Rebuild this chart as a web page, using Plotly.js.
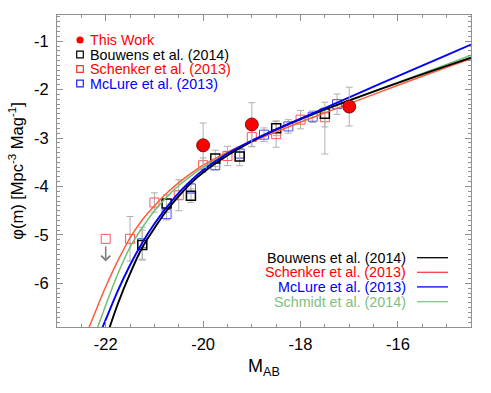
<!DOCTYPE html>
<html>
<head>
<meta charset="utf-8">
<script src="https://cdn.plot.ly/plotly-3.0.1.min.js"></script>
<style>html,body{margin:0;padding:0;background:#fff;}#chart{width:491px;height:393px;}</style>
</head>
<body>
<div id="chart"></div>
<script>
// ---------- data ----------
// This Work
var thisM   = [-20.0, -19.0, -17.0];
var thisPhi = [-3.15, -2.72, -2.35];
var thisErr = [0.46, 0.45, 0.40];

// Bouwens et al. (2014)
var bouM     = [-21.25, -20.75, -20.25, -19.75, -19.25, -18.5, -17.5];
var bouPhi   = [-5.21, -4.35, -4.19, -3.42, -3.38, -2.80, -2.50];
var bouErrUp = [0.31, 0.18, 0.14, 0.17, 0.19, 0.15, 0.24];
var bouErrDn = [0.31, 0.18, 0.14, 0.17, 0.19, 0.15, 0.83];

// Schenker et al. (2013)
var schM   = [-21.5, -21.0, -20.5, -20.0, -19.5, -19.0, -18.5, -18.0, -17.5];
var schPhi = [-5.08, -4.33, -4.18, -3.56, -3.37, -2.98, -2.92, -2.62, -2.57];
var schErr = [0.46, 0.20, 0.32, 0.15, 0.20, 0.20, 0.27, 0.19, 0.20];
// Schenker upper limit
var schLimM   = [-22.0];
var schLimPhi = [-5.08];

// McLure et al. (2013)
var mcM   = [-21.25, -20.75, -20.25, -19.75, -19.25, -18.75, -18.25, -17.75, -17.25];
var mcPhi = [-5.17, -4.57, -4.04, -3.56, -3.32, -2.93, -2.76, -2.56, -2.30];
var mcErr = [0.33, 0.12, 0.10, 0.10, 0.10, 0.14, 0.14, 0.12, 0.21];

// Schechter fit curves
var bouFitM   = [-22.0, -21.75, -21.5, -21.25, -21.0, -20.75, -20.5, -20.25, -20.0, -19.5, -19.0, -18.5, -18.0, -17.5, -17.0, -16.0, -15.0, -14.5];
var bouFitPhi = [-7.15, -6.42, -5.80, -5.26, -4.86, -4.50, -4.20, -3.93, -3.71, -3.36, -3.07, -2.82, -2.61, -2.41, -2.22, -1.86, -1.51, -1.34];

var schFitM   = [-22.5, -22.25, -22.0, -21.75, -21.5, -21.25, -21.0, -20.75, -20.5, -20.25, -20.0, -19.5, -19.0, -18.5, -18.0, -17.5, -17.0, -16.0, -15.0, -14.5];
var schFitPhi = [-7.30, -6.68, -6.07, -5.53, -5.06, -4.69, -4.40, -4.14, -3.92, -3.73, -3.56, -3.29, -3.07, -2.87, -2.67, -2.48, -2.29, -1.91, -1.54, -1.36];

var mcFitM   = [-22.25, -22.0, -21.75, -21.5, -21.25, -21.0, -20.75, -20.5, -20.25, -20.0, -19.5, -19.0, -18.5, -18.0, -17.5, -17.0, -16.0, -15.0, -14.5];
var mcFitPhi = [-7.35, -6.75, -6.15, -5.62, -5.16, -4.77, -4.43, -4.13, -3.88, -3.66, -3.32, -3.05, -2.82, -2.60, -2.38, -2.16, -1.72, -1.29, -1.07];

var smtFitM   = [-22.25, -22.0, -21.75, -21.5, -21.25, -21.0, -20.75, -20.5, -20.25, -20.0, -19.5, -19.0, -18.5, -18.0, -17.5, -17.0, -16.0, -15.0, -14.5];
var smtFitPhi = [-7.15, -6.45, -5.80, -5.25, -4.85, -4.50, -4.22, -3.98, -3.78, -3.60, -3.31, -3.06, -2.83, -2.62, -2.42, -2.23, -1.85, -1.48, -1.29];

// tick labels
var xTickVals = [-22, -20, -18, -16];
var xTickText = ['-22', '-20', '-18', '-16'];
var yTickVals = [-6, -5, -4, -3, -2, -1];
var yTickText = ['-6', '-5', '-4', '-3', '-2', '-1'];

// legend labels
var markerLegend = [
  {name: 'This Work',             color: '#ff0000', sym: 'dot',    stroke: '#ff0000'},
  {name: 'Bouwens et al. (2014)', color: '#000000', sym: 'square', stroke: '#000000'},
  {name: 'Schenker et al. (2013)',color: '#ff0000', sym: 'square', stroke: '#ff3030'},
  {name: 'McLure et al. (2013)',  color: '#0000ff', sym: 'square', stroke: '#2020ff'}
];
var lineLegend = [
  {name: 'Bouwens et al. (2014)',  color: '#000000', line: '#000000'},
  {name: 'Schenker et al. (2013)', color: '#ff0000', line: '#ff4040'},
  {name: 'McLure et al. (2013)',   color: '#0000ff', line: '#0000ff'},
  {name: 'Schmidt et al. (2014)',  color: '#80c080', line: '#80c880'}
];

// ---------- layout geometry ----------
var W = 491, H = 393;
var M = {l: 57, r: 20, t: 15, b: 66};
var PW = W - M.l - M.r, PH = H - M.t - M.b;
function px2paperX(px) { return (px - M.l) / PW; }
function px2paperY(py) { return (H - M.b - py) / PH; }

var ERR_COLOR = '#b0b0b0';
function errY(arr, arrm) {
  var e = {type: 'data', array: arr, color: ERR_COLOR, thickness: 1, width: 3.5, visible: true};
  if (arrm) { e.symmetric = false; e.arrayminus = arrm; }
  return e;
}

var traces = [
  {x: schM, y: schPhi, type: 'scatter', mode: 'markers', error_y: errY(schErr),
   marker: {symbol: 'square-open', size: 9, color: '#ff5555', line: {width: 1}}, showlegend: false},
  {x: schLimM, y: schLimPhi, type: 'scatter', mode: 'markers',
   marker: {symbol: 'square-open', size: 9, color: '#ff5555', line: {width: 1}}, showlegend: false},
  {x: mcM, y: mcPhi, type: 'scatter', mode: 'markers', error_y: errY(mcErr),
   marker: {symbol: 'square-open', size: 9, color: '#4a4aff', line: {width: 1}}, showlegend: false},
  {x: bouM, y: bouPhi, type: 'scatter', mode: 'markers', error_y: errY(bouErrUp, bouErrDn),
   marker: {symbol: 'square-open', size: 9, color: '#000000', line: {width: 1.5}}, showlegend: false},
  {x: smtFitM, y: smtFitPhi, type: 'scatter', mode: 'lines', line: {color: '#70c070', width: 1.5, shape: 'spline'}, showlegend: false},
  {x: schFitM, y: schFitPhi, type: 'scatter', mode: 'lines', line: {color: '#ff5a3c', width: 1.5, shape: 'spline'}, showlegend: false},
  {x: bouFitM, y: bouFitPhi, type: 'scatter', mode: 'lines', line: {color: '#000000', width: 1.9, shape: 'spline'}, showlegend: false},
  {x: mcFitM, y: mcFitPhi, type: 'scatter', mode: 'lines', line: {color: '#0000ff', width: 1.9, shape: 'spline'}, showlegend: false},
  {x: thisM, y: thisPhi, type: 'scatter', mode: 'markers', error_y: errY(thisErr),
   marker: {symbol: 'circle', size: 13, color: '#ff0000', line: {width: 0.8, color: '#600000'}}, showlegend: false}
];

// ---------- legends (annotations + shapes) ----------
var annotations = [];
var shapes = [];
var FONT = 'Liberation Sans, Arial, Helvetica, sans-serif';
var tlRows = [40, 54.5, 69, 83.5];
markerLegend.forEach(function (d, i) {
  var yp = px2paperY(tlRows[i]);
  annotations.push({xref: 'paper', yref: 'paper', x: px2paperX(89), y: yp, xanchor: 'left', yanchor: 'middle',
    borderpad: 0, text: d.name, showarrow: false, font: {family: FONT, size: 14.3, color: d.color}});
  if (d.sym === 'dot') {
    shapes.push({type: 'circle', xref: 'paper', yref: 'paper', xsizemode: 'pixel', ysizemode: 'pixel',
      xanchor: px2paperX(80), yanchor: yp, x0: -3.6, x1: 3.6, y0: -3.6, y1: 3.6,
      fillcolor: d.stroke, line: {width: 0}});
  } else {
    shapes.push({type: 'rect', xref: 'paper', yref: 'paper', xsizemode: 'pixel', ysizemode: 'pixel',
      xanchor: px2paperX(80), yanchor: yp, x0: -3.3, x1: 3.3, y0: -3.3, y1: 3.3,
      fillcolor: 'rgba(0,0,0,0)', line: {width: 1.2, color: d.stroke}});
  }
});
var brRows = [257.7, 272.3, 286.9, 301.7];
lineLegend.forEach(function (d, i) {
  var yp = px2paperY(brRows[i]);
  annotations.push({xref: 'paper', yref: 'paper', x: px2paperX(407), y: yp, xanchor: 'right', yanchor: 'middle',
    borderpad: 0, text: d.name, showarrow: false, font: {family: FONT, size: 14.3, color: d.color}});
  shapes.push({type: 'line', xref: 'paper', yref: 'paper', x0: px2paperX(417), x1: px2paperX(448), y0: yp, y1: yp,
    line: {color: d.line, width: 1.3}});
});

// upper-limit arrow for Schenker brightest bin
annotations.push({x: schLimM[0], y: schLimPhi[0] - 0.47, ax: schLimM[0], ay: schLimPhi[0] - 0.13,
  xref: 'x', yref: 'y', axref: 'x', ayref: 'y', text: '', showarrow: true,
  arrowhead: 4, arrowsize: 1.1, arrowwidth: 1.6, arrowcolor: '#808080'});

var axisCommon = {
  showgrid: false, zeroline: false, showline: true, linecolor: '#909090', linewidth: 1,
  mirror: 'ticks', ticks: 'inside', tickcolor: '#909090', tickwidth: 1,
  tickfont: {family: FONT, size: 16.5, color: '#000'}
};

var layout = {
  width: W, height: H,
  margin: M,
  paper_bgcolor: '#fff', plot_bgcolor: '#fff',
  showlegend: false,
  font: {family: FONT, color: '#000'},
  xaxis: Object.assign({}, axisCommon, {
    range: [-23, -14.5], tickmode: 'array', tickvals: xTickVals, ticktext: xTickText, ticklen: 6,
    ticklabelstandoff: 2,
    minor: {tickmode: 'linear', tick0: 0, dtick: 0.5, ticks: 'inside', ticklen: 3, tickcolor: '#909090', showgrid: false},
    title: {text: 'M<sub>AB</sub>', font: {family: FONT, size: 18}, standoff: 7}
  }),
  yaxis: Object.assign({}, axisCommon, {
    range: [-6.9, -0.46], tickmode: 'array', tickvals: yTickVals, ticktext: yTickText, ticklen: 6,
    ticklabelstandoff: 4,
    minor: {tickmode: 'linear', tick0: 0, dtick: 0.1, ticks: 'inside', ticklen: 3, tickcolor: '#909090', showgrid: false},
    title: {text: '\u03c6(m) [Mpc<sup>-3</sup> Mag<sup>-1</sup>]', font: {family: FONT, size: 16.5}, standoff: 6}
  }),
  annotations: annotations,
  shapes: shapes
};

Plotly.newPlot('chart', traces, layout, {staticPlot: true, displayModeBar: false});
</script>
</body>
</html>
